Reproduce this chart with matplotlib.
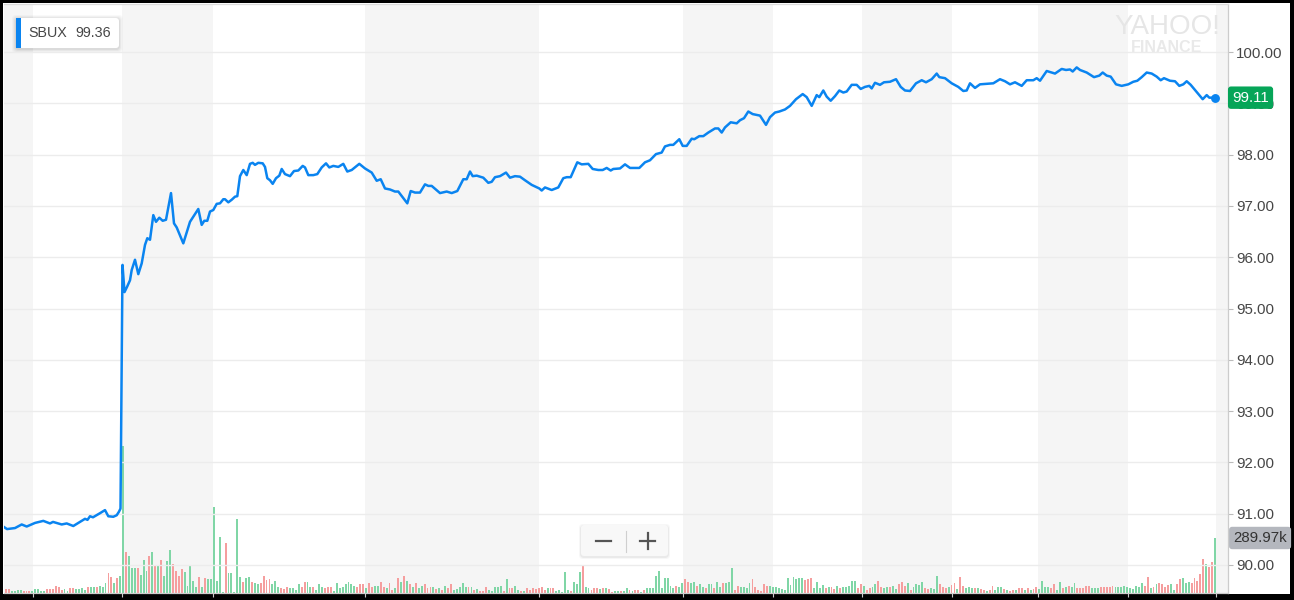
import numpy as np
import matplotlib
matplotlib.use('Agg')
import matplotlib.pyplot as plt
import matplotlib.transforms as mtransforms
from matplotlib.patches import FancyBboxPatch, Rectangle
from matplotlib.lines import Line2D

plt.rcParams['font.family'] = ['Liberation Sans', 'DejaVu Sans']

W, H = 1294, 600

ticker = 'SBUX'
prev_close = 99.36
last_price = 99.11
last_volume = 289.97  # thousands

# session boundaries on the chart's time index
sessions = [33, 122, 213, 365, 539, 683, 773, 862, 952, 1038, 1128, 1216]
price_levels = [90, 91, 92, 93, 94, 95, 96, 97, 98, 99, 100]

t = [4, 7, 15, 21.7, 26.7, 35, 43.3, 50, 53, 61.7, 66.7, 73.3, 80, 85, 87.5, 90, 93,
     100, 105, 108.3, 113.3, 116.7, 119, 120.5, 122.5, 124.5, 127, 130, 131.7, 135,
     138.3, 141.7, 145, 147.3, 150, 153.3, 156, 159.3, 162.7, 166, 171, 174, 176.7,
     183.3, 190, 198.3, 201.7, 204.3, 207.3, 210, 213.3, 216.7, 220, 223.3, 225,
     228.3, 231.7, 235, 237.3, 240, 243.3, 246.7, 250, 252.7, 255, 258.3, 262.7, 265,
     267.3, 270, 272.7, 276, 279.3, 281.7, 285, 290, 294, 298.3, 302.7, 305, 308.3,
     313.3, 317.3, 321.7, 326, 329.3, 333.3, 338.3, 343.3, 347.3, 351.7, 359.3, 365,
     371.7, 376.7, 380.7, 385, 390, 395, 398.3, 407.3, 410.7, 415, 420, 425, 428.3,
     431.7, 440, 446.7, 451.7, 457.3, 463.3, 466.7, 470, 472.7, 476.7, 483.3, 488.3,
     491.7, 495, 500, 506, 510, 515, 520, 525, 531.7, 539.3, 541.7, 545, 551.7, 558.3,
     563.3, 566.7, 570.7, 577.3, 581.7, 588.3, 592.7, 598.3, 602.7, 606.7, 610.7,
     613.3, 620, 625, 630, 639.3, 645, 650, 656, 661.7, 665, 670, 673.3, 679.3, 682.7,
     686.7, 691.7, 694.3, 699.3, 703.3, 708.3, 715, 718.3, 721.7, 725, 730.7, 734,
     736.7, 740, 744, 748.3, 752.7, 760, 766, 770, 775, 779.3, 785, 790, 796, 802.7,
     806.7, 811.7, 816.7, 819.3, 823.3, 826.7, 830.7, 835, 839.3, 843.3, 846.7, 851.7,
     856.7, 860.7, 865, 869.3, 871.7, 875, 880, 884, 890, 896, 900.7, 905, 910, 916,
     921.7, 926, 931.7, 936.7, 939.3, 945, 951.7, 958.3, 963.3, 966.7, 970, 975, 980,
     986.7, 993.3, 1000, 1005, 1010, 1015, 1021.7, 1026.7, 1033.3, 1036.7, 1040,
     1046.7, 1055, 1061.7, 1066, 1070, 1072.7, 1076.7, 1080, 1086.7, 1094, 1099.3,
     1102.7, 1106.7, 1110.7, 1116, 1121.7, 1128.3, 1133.3, 1137.3, 1141.7, 1146.7,
     1151.7, 1156.7, 1160.7, 1164, 1170, 1175, 1179.3, 1183.3, 1186.7, 1190.7, 1195,
     1199.3, 1202.7, 1206.7, 1209.3, 1215]

price = [90.74, 90.70, 90.72, 90.79, 90.75, 90.82, 90.86, 90.81, 90.84, 90.79, 90.81,
         90.76, 90.84, 90.90, 90.88, 90.95, 90.93, 91.01, 91.07, 90.95, 90.94, 90.97,
         91.04, 91.10, 95.85, 95.32, 95.42, 95.55, 95.75, 95.95, 95.67, 95.88, 96.24,
         96.37, 96.34, 96.82, 96.69, 96.77, 96.71, 96.73, 97.25, 96.66, 96.58, 96.27,
         96.69, 96.94, 96.63, 96.71, 96.71, 96.89, 96.92, 97.04, 97.05, 97.13, 97.13,
         97.07, 97.12, 97.18, 97.19, 97.58, 97.70, 97.60, 97.82, 97.84, 97.80, 97.84,
         97.83, 97.76, 97.54, 97.50, 97.43, 97.54, 97.59, 97.72, 97.62, 97.58, 97.68,
         97.69, 97.78, 97.75, 97.60, 97.60, 97.62, 97.75, 97.83, 97.75, 97.78, 97.76,
         97.82, 97.67, 97.70, 97.82, 97.73, 97.65, 97.49, 97.52, 97.34, 97.32, 97.28,
         97.28, 97.05, 97.29, 97.26, 97.26, 97.42, 97.39, 97.39, 97.25, 97.28, 97.25,
         97.29, 97.52, 97.52, 97.67, 97.58, 97.59, 97.55, 97.45, 97.47, 97.56, 97.58,
         97.65, 97.55, 97.58, 97.57, 97.50, 97.41, 97.34, 97.30, 97.36, 97.31, 97.36,
         97.54, 97.56, 97.56, 97.85, 97.81, 97.82, 97.72, 97.70, 97.70, 97.74, 97.69,
         97.72, 97.73, 97.81, 97.74, 97.74, 97.85, 97.89, 98.01, 98.04, 98.16, 98.19,
         98.19, 98.30, 98.17, 98.17, 98.31, 98.30, 98.36, 98.36, 98.43, 98.51, 98.51,
         98.43, 98.53, 98.63, 98.62, 98.61, 98.67, 98.71, 98.84, 98.79, 98.76, 98.58,
         98.73, 98.82, 98.84, 98.88, 98.95, 99.08, 99.18, 99.12, 98.95, 99.16, 99.12,
         99.25, 99.13, 99.05, 99.14, 99.25, 99.21, 99.23, 99.36, 99.36, 99.28, 99.32,
         99.34, 99.29, 99.40, 99.36, 99.41, 99.42, 99.47, 99.32, 99.25, 99.24, 99.39,
         99.45, 99.41, 99.47, 99.58, 99.51, 99.49, 99.39, 99.32, 99.24, 99.25, 99.39,
         99.30, 99.37, 99.38, 99.39, 99.47, 99.43, 99.37, 99.41, 99.34, 99.45, 99.45,
         99.49, 99.44, 99.63, 99.58, 99.67, 99.65, 99.66, 99.62, 99.70, 99.65, 99.60,
         99.51, 99.54, 99.60, 99.54, 99.52, 99.37, 99.34, 99.37, 99.42, 99.44, 99.51,
         99.60, 99.58, 99.52, 99.45, 99.49, 99.44, 99.43, 99.34, 99.37, 99.43, 99.36,
         99.26, 99.16, 99.08, 99.16, 99.11, 99.11]

# volume in thousands, 'g' = up bar, 'r' = down bar
vol_1 = [19, 19, 11, 12, 16, 16, 12, 11, 11, 11, 19, 19, 11, 11, 19, 19, 19, 39, 30, 16,
         19, 11, 26, 26, 19, 19, 25, 16, 30, 30, 34, 30, 39, 30, 51, 104, 83, 51, 78, 92,
         777, 216, 193, 131, 131, 131, 96, 172, 117, 196, 216, 145, 145, 172, 87, 170,
         225, 152, 117, 87, 126, 110, 39, 145, 64, 34, 83, 30, 78, 73, 73, 455, 64, 296,
         4, 264, 104, 104, 4, 391, 83, 57, 78, 83, 57, 51, 48, 51, 92, 69, 73, 46, 64, 30,
         25, 21, 30, 25, 25, 16, 46, 34, 57, 57, 30, 34, 16, 46, 34, 25]
dir_1 = ("rrggggrrrg" "ggggrrrrrr" "ggrrggggrg" "grgggrrgrg" "grgggrgggr"
         "grgrgggrrr" "rgggggrgrg" "gggggrgggg" "grggrggrrr" "rgggrrrggg" "grrggrgggr")

vol_2 = [30, 30, 12, 51, 25, 30, 46, 57, 46, 37, 34, 46, 46, 25, 51, 34, 39, 39, 57, 34,
         25, 51, 16, 28, 78, 60, 92, 64, 46, 30, 51, 25, 39, 46, 25, 30, 30, 21, 25, 16,
         39, 25, 46, 16, 21, 30, 51, 30, 34, 34, 16, 21, 12, 12, 30, 16, 11, 30, 30, 37,
         11, 73, 25, 25, 37, 16, 12, 12, 28, 16, 25, 21, 25, 30, 16, 25, 25, 25, 11, 16,
         4, 110, 16, 11, 57, 48, 110, 140, 30, 28, 16, 25, 25, 21, 28, 25, 21, 7, 12, 11,
         11, 12, 25, 16, 12, 16, 16, 7, 16, 25, 25, 28]
dir_2 = ("rrgggggggg" "rrrgrrggrr" "grrgrgrgrg" "rggrrrgrgr" "grrgggggrg"
         "rgrrrggggg" "rgrrggrgrr" "rrrrrgrrgg" "gggrgggrgg" "rrrgrgrrgg" "rggrgrrgrg" "gg")

vol_3 = [92, 117, 25, 78, 78, 37, 25, 39, 34, 51, 73, 57, 51, 57, 39, 46, 34, 25, 46, 46,
         28, 57, 34, 51, 55, 57, 131, 16, 37, 34, 34, 25, 51, 73, 34, 16, 11, 46, 39, 39,
         30, 30, 25, 21, 16, 78, 42, 83, 73, 78, 78, 69, 73, 78, 25, 57, 25, 42, 25, 30,
         34, 21, 37, 25, 30, 30, 37, 64, 64, 25, 46, 37, 16, 25, 30, 46, 64, 30, 25, 34,
         34, 37, 21, 46, 57, 39, 55, 16, 34, 46, 42, 57, 25, 21, 25, 21, 92, 48, 34, 25,
         30, 42, 51, 21, 83, 39, 25]
dir_3 = ("gggggggrgg" "rrggrggrgg" "rggrgggrrg" "gggrrrrrrg" "gggggggggg"
         "grrrggggrg" "rrgrgggggr" "rgrrggrrgg" "rggrrrgrgg" "ggrrgggrrr" "grrgrrg")

vol_4 = [30, 28, 25, 25, 21, 16, 12, 16, 39, 16, 30, 30, 19, 16, 12, 16, 16, 25, 25, 16,
         28, 16, 21, 30, 19, 64, 30, 30, 25, 46, 16, 57, 28, 30, 37, 34, 51, 28, 28, 25,
         39, 39, 28, 25, 25, 34, 34, 34, 34, 39, 30, 30, 30, 39, 34, 25, 19, 37, 34, 55,
         39, 83, 25, 34, 48, 55, 46, 34, 42, 46, 16, 48, 73, 78, 51, 57, 55, 78, 65, 101,
         179, 154, 135, 163, 290]
dir_4 = ("ggrgrrgrrg" "ggrgrrgrrg" "rgrrggggrr" "ggrgrggrrr" "rrgggrrrrr"
         "gggggggggg" "rrgrgrrrrg" "grrgggrrrr" "rgrrg")

BLUE = '#0a84f0'
UP, DOWN = '#80d6a6', '#f59e9e'

volume = np.array(vol_1 + vol_2 + vol_3 + vol_4, dtype=float)
colors = [UP if c == 'g' else DOWN for c in dir_1 + dir_2 + dir_3 + dir_4]
t_vol = np.linspace(6, t[-1], len(volume))

fig = plt.figure(figsize=(W / 100, H / 100), dpi=100, facecolor='white')
ax = fig.add_axes([4 / W, 7 / H, 1224 / W, 589 / H])
ax_vol = ax.twinx()
ax_vol.set_zorder(0)
ax.set_zorder(1)
ax.patch.set_visible(False)

# alternating session shading
bounds = [4] + sessions + [1228]
for i in range(0, len(bounds) - 1, 2):
    ax_vol.axvspan(bounds[i], bounds[i + 1], color='#f5f5f5', lw=0, zorder=0)

ax_vol.bar(t_vol, volume, width=1.9, color=colors, lw=0, zorder=2)
ax_vol.set_ylim(0, 3105)
ax_vol.set_yticks([])
for s in ax_vol.spines.values():
    s.set_visible(False)

for lv in price_levels:
    ax.axhline(lv, color='#ececec', lw=1.0, zorder=1)

ax.plot(t, price, color=BLUE, lw=1.8, zorder=3, solid_joinstyle='round')
ax.plot(t[-1], price[-1], 'o', color=BLUE, ms=6.4, mec='none', zorder=4)

ax.set_xlim(4, 1228)
ax.set_ylim(89.454, 100.936)
ax.yaxis.tick_right()
ax.set_yticks(price_levels)
ax.set_yticklabels(['{:.2f}'.format(v) for v in price_levels])
ax.tick_params(axis='y', length=3.6, width=0.8, color='#bbbbbb', pad=2.2,
               labelsize=10.8, labelcolor='#464646')
ax.set_xticks(sessions)
ax.set_xticklabels([])
ax.tick_params(axis='x', length=3, width=0.8, color='#cccccc')
ax.spines['left'].set_visible(False)
ax.spines['top'].set_color('#dcdcdc')
ax.spines['right'].set_color('#cccccc')
ax.spines['bottom'].set_color('#cccccc')
for s in ax.spines.values():
    s.set_linewidth(0.9)

# last price / last volume tags
right_edge = mtransforms.blended_transform_factory(ax.transAxes, ax.transData)
ax.annotate('{:.2f}'.format(last_price), xy=(1, last_price), xycoords=right_edge,
            xytext=(3.0, 0), textcoords='offset points', ha='left', va='center',
            fontsize=10.8, color='white', zorder=6,
            bbox=dict(boxstyle='round,pad=0.28,rounding_size=0.2', fc='#06a558', ec='none'))
vol_edge = mtransforms.blended_transform_factory(ax.transAxes, ax_vol.transData)
ax.annotate('{:.2f}k'.format(last_volume), xy=(1, last_volume), xycoords=vol_edge,
            xytext=(3.8, 0), textcoords='offset points', ha='left', va='center',
            fontsize=10.8, color='#333333', zorder=6,
            bbox=dict(boxstyle='round,pad=0.28,rounding_size=0.2', fc='#b4b7be', ec='none'))

px = mtransforms.IdentityTransform()

# watermark
fig.text(1167, H - 27, 'YAHOO!', transform=px, ha='center', va='center',
         fontsize=20, color='#e6e6e6')
fig.text(1167, H - 48, 'FINANCE', transform=px, ha='center', va='center',
         fontsize=11.5, fontweight='bold', color='#e9e9e9')

# legend chip
for i, a in [(4, 0.025), (3, 0.03), (2, 0.04), (1, 0.05)]:
    fig.add_artist(FancyBboxPatch((16 - i, H - 48 - i - 1), 103 + 2 * i, 30 + 2 * i,
                                  boxstyle='round,pad=0,rounding_size=4', transform=px,
                                  fc=(0, 0, 0, a), ec='none'))
fig.add_artist(FancyBboxPatch((16, H - 48), 103, 30, boxstyle='round,pad=0,rounding_size=3',
                              transform=px, fc='white', ec='none'))
fig.add_artist(Rectangle((16, H - 48), 5, 30, transform=px, fc=BLUE, ec='none'))
fig.text(28, H - 33, ticker, transform=px, ha='left', va='center', fontsize=10.3,
         color='#464646')
fig.text(75, H - 33, '{:.2f}'.format(prev_close), transform=px, ha='left', va='center',
         fontsize=10.3, color='#464646')

# zoom buttons
for i, a in [(2, 0.03), (1, 0.05)]:
    fig.add_artist(FancyBboxPatch((581 - i, H - 556 - i - 1), 87 + 2 * i, 31 + 2 * i,
                                  boxstyle='round,pad=0,rounding_size=4', transform=px,
                                  fc=(0, 0, 0, a), ec='none'))
fig.add_artist(FancyBboxPatch((581, H - 556), 87, 31, boxstyle='round,pad=0,rounding_size=3',
                              transform=px, fc='#f8f8f8', ec='none'))
glyph = dict(transform=px, color='#555555', lw=1.6)
fig.add_artist(Line2D([596, 611], [H - 541, H - 541], **glyph))
fig.add_artist(Line2D([640, 655], [H - 541, H - 541], **glyph))
fig.add_artist(Line2D([647.5, 647.5], [H - 533, H - 549], **glyph))
fig.add_artist(Line2D([626, 626], [H - 531, H - 552], transform=px, color='#cfcfcf', lw=0.8))

# screenshot frame
for r in [(0, 0, 3, H), (0, H - 3, W, 3), (W - 4, 0, 4, H), (0, 0, W, 6)]:
    fig.add_artist(Rectangle(r[:2], r[2], r[3], transform=px, fc='black', ec='none'))

fig.savefig('out.png', dpi=100, facecolor='white')
